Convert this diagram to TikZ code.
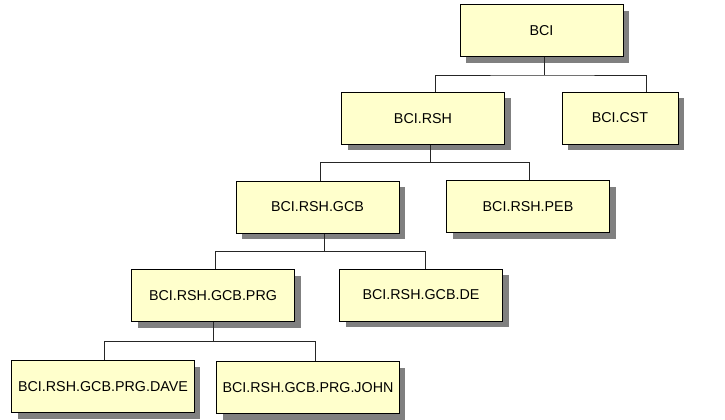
\documentclass[tikz,border=0pt]{standalone}
\usepackage{fontspec}
\setmainfont{Liberation Sans}
\usetikzlibrary{shadows}

\definecolor{boxfill}{HTML}{FFFFCC}
\definecolor{boxshade}{HTML}{808080}

\tikzset{
    unit/.style={rectangle, draw=black, line width=0.5pt, fill=boxfill,
        minimum width=81.5pt, minimum height=26pt, inner sep=0pt,
        font=\fontsize{7.15}{8.5}\selectfont,
        drop shadow={shadow xshift=3pt, shadow yshift=-3pt, fill=boxshade, opacity=1}},
    link/.style={draw=black!85, line width=0.5pt}
}

\begin{document}
\begin{tikzpicture}[x=0.5pt, y=-0.5pt]

\useasboundingbox (0,0) rectangle (725,419);

% Level 0
\node[unit] (bci) at (541.5,30.5) {BCI};

% Level 1
\node[unit] (rsh) at (423,118.3) {BCI.RSH};
\node[unit, minimum width=58pt] (cst) at (620,118) {BCI.CST};

% Level 2
\node[unit] (gcb) at (317.5,207) {BCI.RSH.GCB};
\node[unit] (peb) at (528,206.7) {BCI.RSH.PEB};

% Level 3
\node[unit] (prg) at (213,295.5) {BCI.RSH.GCB.PRG};
\node[unit] (de) at (421,295) {BCI.RSH.GCB.DE};

% Level 4
\node[unit, minimum width=91.3pt] (dave) at (103,386.5) {BCI.RSH.GCB.PRG.DAVE};
\node[unit, minimum width=91.2pt] (john) at (308,387.5) {BCI.RSH.GCB.PRG.JOHN};

% Bus points
\coordinate (bus1) at (544,75);
\coordinate (bus2) at (430,162.7);
\coordinate (bus3) at (324.3,251.7);
\coordinate (bus4) at (213.3,341.7);

% Links
\draw[link] ([xshift=1.25pt]bci.south) -- (bus1);
\draw[link] ([xshift=6.35pt]rsh.north) |- (bus1) -| ([xshift=13pt]cst.north);

\draw[link] ([xshift=3.5pt]rsh.south) -- (bus2);
\draw[link] ([xshift=1.6pt]gcb.north) |- (bus2) -| ([xshift=0.65pt]peb.north);

\draw[link] ([xshift=3.4pt]gcb.south) -- (bus3);
\draw[link] ([xshift=1pt]prg.north) |- (bus3) -| ([xshift=2pt]de.north);

\draw[link] ([xshift=0.15pt]prg.south) -- (bus4);
\draw[link] ([xshift=0.65pt]dave.north) |- (bus4) -| ([xshift=3.5pt]john.north);

\end{tikzpicture}
\end{document}
